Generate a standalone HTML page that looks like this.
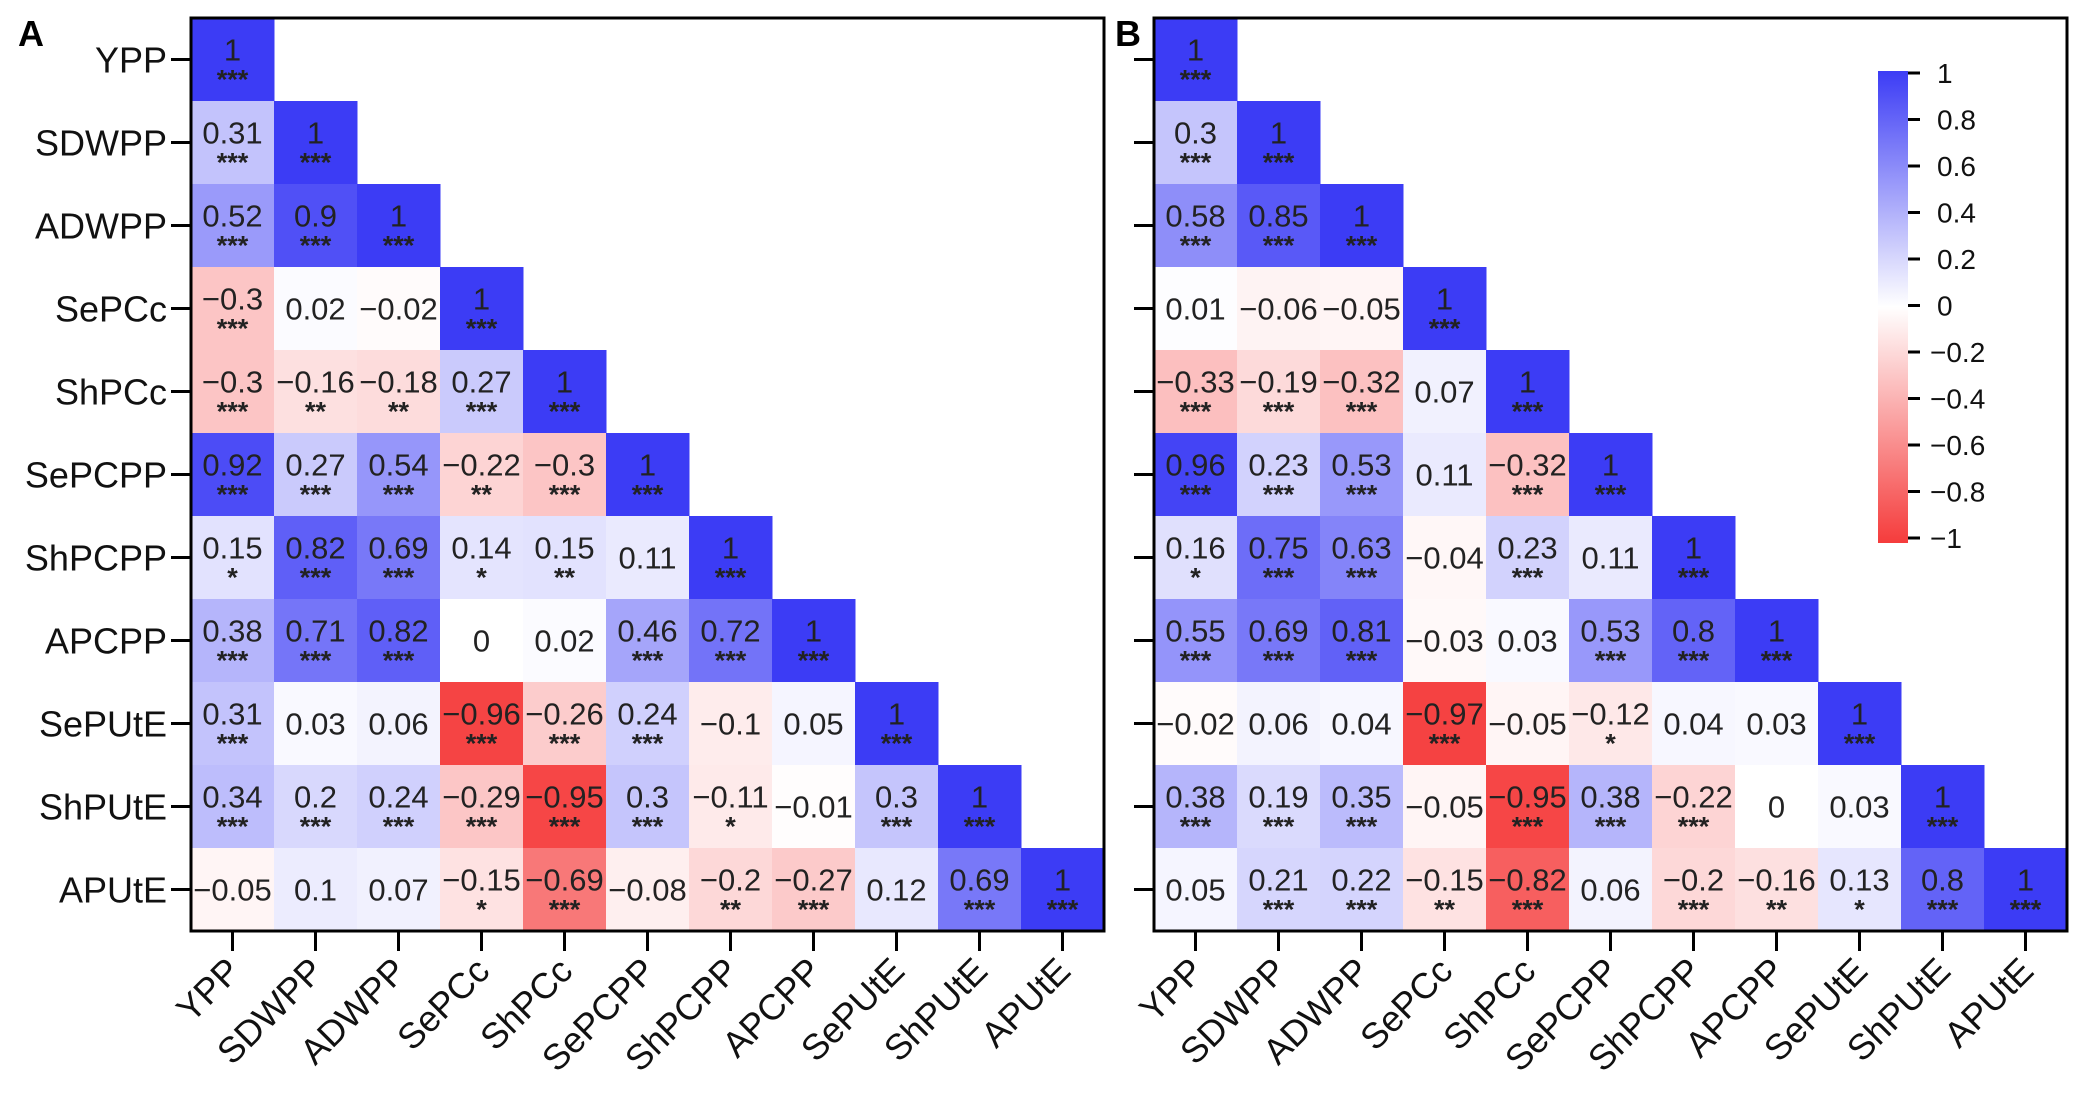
<!DOCTYPE html>
<html><head><meta charset="utf-8"><style>
body{margin:0;background:#fff;}
svg{display:block;font-family:"Liberation Sans",Arial,sans-serif;}
</style></head><body>
<svg id="chart" width="2088" height="1106" viewBox="0 0 2088 1106" xmlns="http://www.w3.org/2000/svg"></svg>
<script>
const labels=["YPP","SDWPP","ADWPP","SePCc","ShPCc","SePCPP","ShPCPP","APCPP","SePUtE","ShPUtE","APUtE"];
const valuesA=[
[1],
[0.31,1],
[0.52,0.9,1],
[-0.3,0.02,-0.02,1],
[-0.3,-0.16,-0.18,0.27,1],
[0.92,0.27,0.54,-0.22,-0.3,1],
[0.15,0.82,0.69,0.14,0.15,0.11,1],
[0.38,0.71,0.82,0,0.02,0.46,0.72,1],
[0.31,0.03,0.06,-0.96,-0.26,0.24,-0.1,0.05,1],
[0.34,0.2,0.24,-0.29,-0.95,0.3,-0.11,-0.01,0.3,1],
[-0.05,0.1,0.07,-0.15,-0.69,-0.08,-0.2,-0.27,0.12,0.69,1]];
const sigA=[
["***"],
["***","***"],
["***","***","***"],
["***","","","***"],
["***","**","**","***","***"],
["***","***","***","**","***","***"],
["*","***","***","*","**","","***"],
["***","***","***","","","***","***","***"],
["***","","","***","***","***","","","***"],
["***","***","***","***","***","***","*","","***","***"],
["","","","*","***","","**","***","","***","***"]];
const valuesB=[
[1],
[0.3,1],
[0.58,0.85,1],
[0.01,-0.06,-0.05,1],
[-0.33,-0.19,-0.32,0.07,1],
[0.96,0.23,0.53,0.11,-0.32,1],
[0.16,0.75,0.63,-0.04,0.23,0.11,1],
[0.55,0.69,0.81,-0.03,0.03,0.53,0.8,1],
[-0.02,0.06,0.04,-0.97,-0.05,-0.12,0.04,0.03,1],
[0.38,0.19,0.35,-0.05,-0.95,0.38,-0.22,0,0.03,1],
[0.05,0.21,0.22,-0.15,-0.82,0.06,-0.2,-0.16,0.13,0.8,1]];
const sigB=[
["***"],
["***","***"],
["***","***","***"],
["","","","***"],
["***","***","***","","***"],
["***","***","***","","***","***"],
["*","***","***","","***","","***"],
["***","***","***","","","***","***","***"],
["","","","***","","*","","","***"],
["***","***","***","","***","***","***","","","***"],
["","***","***","**","***","","***","**","*","***","***"]];
const cbTicks=[1,0.8,0.6,0.4,0.2,0,-0.2,-0.4,-0.6,-0.8,-1];

const NS="http://www.w3.org/2000/svg";
const svg=document.getElementById('chart');
function el(tag,attrs,parent){const e=document.createElementNS(NS,tag);for(const k in attrs)e.setAttribute(k,attrs[k]);(parent||svg).appendChild(e);return e;}
function color(v){
  const t=Math.min(1,Math.abs(v));
  const r=v>=0?[60,60,245]:[245,60,60];
  const m=r.map(x=>Math.round(255+(x-255)*t));
  return `rgb(${m[0]},${m[1]},${m[2]})`;
}
function fmt(v){return v<0?"\u2212"+String(Math.abs(v)):String(v);}

function panel(x0,y0,size,vals,sigs,letter,lx,showY){
  const n=labels.length, cs=size/n;
  const g=el('g',{});
  
  
  const xs=i=>x0+i*cs, ys=i=>y0+i*cs;
  for(let i=0;i<n;i++){for(let j=0;j<=i;j++){
    const v=vals[i][j];
    const r=el('rect',{x:xs(j),y:ys(i),width:cs+0.5,height:cs+0.5,fill:color(v)},g);
    
    
    const s=sigs[i][j];
    const cx=xs(j)+cs/2, cy=ys(i)+cs/2;
    const t=el('text',{x:cx,y:s?cy+1:cy+11,'text-anchor':'middle','font-size':31,fill:'#222'},g);
    t.textContent=fmt(v);
    
    
    if(s){const st=el('text',{x:cx,y:cy+29,'text-anchor':'middle','font-size':27,fill:'#222','font-weight':'bold'},g);st.textContent=s;
      
      }
  }}
  const fr=el('rect',{x:x0,y:y0,width:size,height:size,fill:'none',stroke:'#000','stroke-width':3},g);
  
  
  for(let i=0;i<n;i++){
    const cy=ys(i)+cs/2;
    el('line',{x1:x0-20,x2:x0,y1:cy,y2:cy,stroke:'#000','stroke-width':3},g);
    if(showY){
      const yl=el('text',{x:x0-24,y:cy+13,'text-anchor':'end','font-size':36,fill:'#111'},g);
      yl.textContent=labels[i];
      
      
    }
    const cx=xs(i)+cs/2, yb=y0+size;
    el('line',{x1:cx,x2:cx,y1:yb,y2:yb+20,stroke:'#000','stroke-width':3},g);
    const xl=el('text',{x:cx+10,y:yb+42,'text-anchor':'end','font-size':36,fill:'#111',transform:`rotate(-45 ${cx+10} ${yb+42})`},g);
    xl.textContent=labels[i];
    
    
  }
  const L=el('text',{x:lx,y:46,'font-size':36,'font-weight':'bold',fill:'#000'},g);
  L.textContent=letter;
  
  
}
panel(191,18,913,valuesA,sigA,'A',18,true);
panel(1154,18,913,valuesB,sigB,'B',1115,false);

const cb=el('g',{});


const defs=el('defs',{},cb);
const gr=el('linearGradient',{id:'cbg',x1:0,y1:0,x2:0,y2:1},defs);
[[0,1],[0.5,0],[1,-1]].forEach(([o,v])=>el('stop',{offset:o,'stop-color':color(v)},gr));
const cbTop=71,cbBot=543,cbX=1878,cbW=30;
el('rect',{x:cbX,y:cbTop,width:cbW,height:cbBot-cbTop,fill:'url(#cbg)'},cb);
const cbY=v=>73+(1-v)/2*(538-73);
cbTicks.forEach(v=>{
  const y=cbY(v);
  el('line',{x1:cbX+cbW,x2:cbX+cbW+12,y1:y,y2:y,stroke:'#000','stroke-width':3},cb);
  const t=el('text',{x:v<0?1930:1937,y:y+10,'font-size':28,fill:'#111'},cb);
  t.textContent=fmt(v);
  
  
});
</script>
</body></html>
